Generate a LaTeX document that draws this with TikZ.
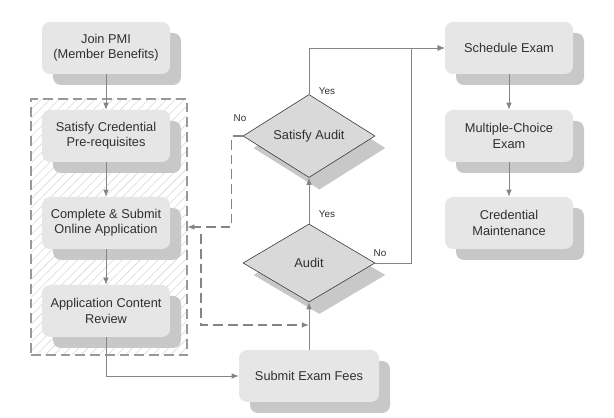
\documentclass[tikz,border=0pt]{standalone}
\usepackage[]{xcolor}
\usepackage{fontspec}
\setmainfont{Liberation Sans}
\usepackage{tikz}
\usetikzlibrary{patterns,patterns.meta,shapes.geometric,shadows,arrows.meta}

\definecolor{boxgray}{HTML}{E6E6E6}
\definecolor{shadegray}{HTML}{C8C8C8}
\definecolor{diagray}{HTML}{D9D9D9}
\definecolor{linegray}{HTML}{858585}
\definecolor{txtgray}{HTML}{303030}

\begin{document}
\begin{tikzpicture}[
  box/.style = {rectangle,rounded corners=0.2cm,fill=boxgray,minimum width=3.2cm,minimum height=1.3cm,
    align=center,text=txtgray,font=\fontsize{9.1}{10.8}\selectfont,
    drop shadow={shadow xshift=0.275cm,shadow yshift=-0.275cm,fill=shadegray,opacity=1}},
  decision/.style = {diamond,draw=black!80,line width=0.4pt,fill=diagray,minimum width=3.3cm,minimum height=1.95cm,
    inner sep=0pt,text=txtgray,font=\fontsize{9.1}{10.8}\selectfont,
    drop shadow={shadow xshift=0.26cm,shadow yshift=-0.3cm,fill=shadegray,opacity=1}},
  link/.style = {draw=linegray,line width=0.6pt,-{Latex[length=5pt,width=4pt]}},
  dashlink/.style = {draw=linegray,line width=0.9pt,dash pattern=on 7pt off 3.5pt,-{Latex[length=5pt,width=4pt]}},
  answer/.style = {text=txtgray,font=\fontsize{7}{8}\selectfont}
]
  \useasboundingbox(0,0) rectangle (15.35,10.45);
  % hatched group
  \node(grp)[draw=black!40,line width=0.9pt,dash pattern=on 7pt off 3.5pt,
    pattern={Lines[angle=45,distance=4.5pt,line width=0.4pt]},pattern color=black!16,
    minimum width=3.9cm,minimum height=6.4cm] at (2.725,4.775){};

  \node(join)[box] at (2.65,9.25){Join PMI\\(Member Benefits)};
  \node(cred)[box] at (2.65,7.05){Satisfy Credential\\Pre-requisites};
  \node(appl)[box] at (2.65,4.875){Complete \& Submit\\Online Application};
  \node(rev)[box] at (2.65,2.675){Application Content\\Review};
  \node(fees)[box,minimum width=3.5cm] at (7.725,1.05){Submit Exam Fees};
  \node(aud)[decision] at (7.725,3.875){Audit};
  \node(sat)[decision] at (7.725,7.05){Satisfy Audit};
  \node(sched)[box] at (12.725,9.25){Schedule Exam};
  \node(mce)[box] at (12.725,7.05){Multiple-Choice\\Exam};
  \node(maint)[box] at (12.725,4.875){Credential\\Maintenance};

  \draw[link](join)--(cred);
  \draw[link](cred)--(appl);
  \draw[link](appl)--(rev);
  \draw[link](rev.south)|-(fees.west);
  \draw[link](fees)--(aud);
  \draw[link](aud)--(sat);
  \draw[link](sat.north)|-(sched.west);
  \draw[link](aud.east)--++(0.9,0)|-(sched.west);
  \draw[link](sched)--(mce);
  \draw[link](mce)--(maint);

  % retry paths
  \draw[dashlink](sat.west)--++(-0.275,0)|-(grp.east);
  \coordinate(d1) at (5.025,4.6);
  \coordinate(d2) at (7.725,2.325);
  \draw[dashlink](d1)|-(d2);

  \node(yes1)[answer] at (8.175,8.175){Yes};
  \node(yes2)[answer] at (8.175,5.1){Yes};
  \node(no1)[answer] at (6.0,7.5){No};
  \node(no2)[answer] at (9.5,4.125){No};
\end{tikzpicture}
\end{document}
